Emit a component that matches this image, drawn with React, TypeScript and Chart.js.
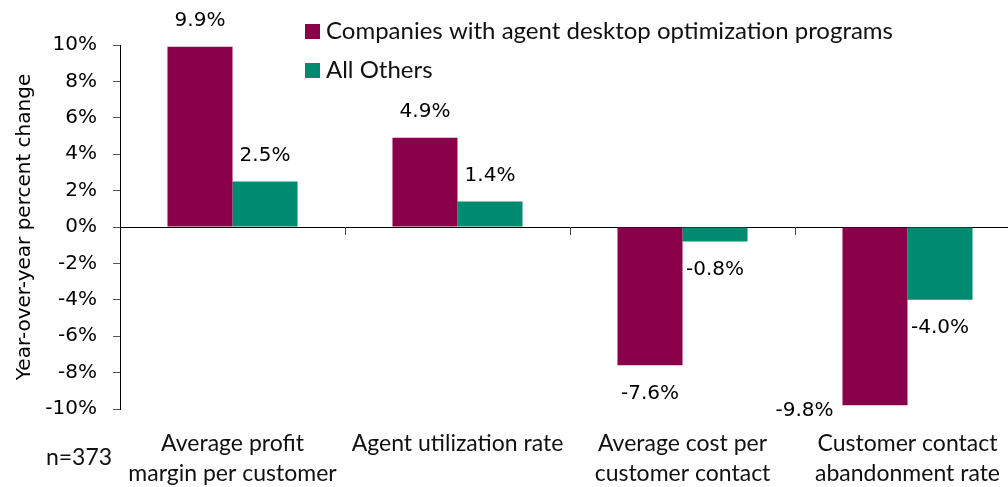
import React, { useEffect, useRef } from "react";
import { Chart, registerables } from "chart.js";

Chart.register(...registerables);

const categories: string[][] = [
  ["Average profit", "margin per customer"],
  ["Agent utilization rate"],
  ["Average cost per", "customer contact"],
  ["Customer contact", "abandonment rate"],
];
const seriesNames = ["Companies with agent desktop optimization programs", "All Others"];
const withPrograms = [9.9, 4.9, -7.6, -9.8];
const allOthers = [2.5, 1.4, -0.8, -4.0];
const yTicks = [-10, -8, -6, -4, -2, 0, 2, 4, 6, 8, 10];
const sampleNote = "n=373";

const MAGENTA = "#8A0049";
const GREEN = "#008A70";
const SANS = "Lato, 'Noto Sans', sans-serif";
const DEJAVU = "'DejaVu Sans', sans-serif";

const overlayPlugin = {
  id: "overlay",
  afterDatasetsDraw(chart: any) {
    const ctx = chart.ctx;
    const xs = chart.scales.x;
    const ys = chart.scales.y;
    const area = chart.chartArea;
    const zeroY = ys.getPixelForValue(0);
    ctx.save();
    // category boundary ticks
    ctx.strokeStyle = "#444";
    ctx.lineWidth = 1;
    for (let i = 0; i < categories.length - 1; i++) {
      const bx = Math.round((xs.getPixelForValue(i) + xs.getPixelForValue(i + 1)) / 2) + 0.5;
      ctx.beginPath();
      ctx.moveTo(bx, zeroY);
      ctx.lineTo(bx, zeroY + 8);
      ctx.stroke();
    }
    // data labels
    ctx.font = `20px ${DEJAVU}`;
    ctx.fillStyle = "#000";
    chart.data.datasets.forEach((ds: any, di: number) => {
      const meta = chart.getDatasetMeta(di);
      meta.data.forEach((bar: any, i: number) => {
        const v = ds.data[i];
        const txt = v.toFixed(1) + "%";
        ctx.textBaseline = "middle";
        if (v >= 0) {
          ctx.textAlign = "center";
          ctx.fillText(txt, bar.x, bar.y - 26);
        } else {
          const y = bar.y + 28;
          if (y + 10 > area.bottom) {
            ctx.textAlign = "right";
            ctx.fillText(txt, bar.x - bar.width / 2 - 9, bar.y + 5);
          } else {
            ctx.textAlign = "center";
            ctx.fillText(txt, bar.x, y);
          }
        }
      });
    });
    // legend
    ctx.font = `24px ${SANS}`;
    ctx.textAlign = "left";
    ctx.textBaseline = "middle";
    chart.data.datasets.forEach((ds: any, di: number) => {
      const cy = 31 + di * 39;
      ctx.fillStyle = ds.backgroundColor;
      ctx.fillRect(305, cy - 7, 15, 15);
      ctx.fillStyle = "#111";
      ctx.fillText(ds.label, 326, cy);
    });
    // sample note
    ctx.font = `23px ${SANS}`;
    ctx.textAlign = "center";
    ctx.fillText(sampleNote, 79, 458);
    ctx.restore();
  },
};

export default function App() {
  const ref = useRef<HTMLCanvasElement>(null);
  useEffect(() => {
    document.body.style.margin = "0";
    const chart = new Chart(ref.current!, {
      type: "bar",
      data: {
        labels: categories,
        datasets: [
          { label: seriesNames[0], data: withPrograms, backgroundColor: MAGENTA, borderWidth: 0 },
          { label: seriesNames[1], data: allOthers, backgroundColor: GREEN, borderWidth: 0 },
        ],
      },
      options: {
        responsive: false,
        animation: false,
        layout: { padding: { top: 45, left: 0, right: 0, bottom: 0 } },
        datasets: { bar: { categoryPercentage: 0.578, barPercentage: 1 } },
        plugins: { legend: { display: false }, tooltip: { enabled: false } },
        scales: {
          x: {
            grid: { display: false },
            border: { display: false },
            ticks: { color: "#111", font: { family: SANS, size: 23, lineHeight: 1.3 }, padding: 12, maxRotation: 0, autoSkip: false },
            afterFit: (s: any) => { s.height = 78; },
          },
          y: {
            min: -10,
            max: 10,
            afterBuildTicks: (s: any) => { s.ticks = yTicks.map((v) => ({ value: v })); },
            ticks: { color: "#000", font: { family: DEJAVU, size: 20 }, padding: 16, callback: (v: any) => v + "%" },
            grid: {
              color: (c: any) => (c.tick && c.tick.value === 0 ? "#000" : "rgba(0,0,0,0)"),
              tickColor: "#555",
              tickLength: 7,
              lineWidth: 1,
            },
            border: { display: true, color: "#000", width: 1 },
            title: { display: true, text: "Year-over-year percent change", color: "#000", font: { family: DEJAVU, size: 20 }, padding: { top: 13, bottom: 0 } },
            afterFit: (s: any) => { s.width = 120; },
          },
        },
      },
      plugins: [overlayPlugin],
    });
    return () => chart.destroy();
  }, []);
  return (
    <div style={{ width: 1008, height: 487, overflow: "hidden", background: "#fff" }}>
      <canvas ref={ref} width={1020} height={487} style={{ display: "block", width: 1020, height: 487 }} />
    </div>
  );
}
